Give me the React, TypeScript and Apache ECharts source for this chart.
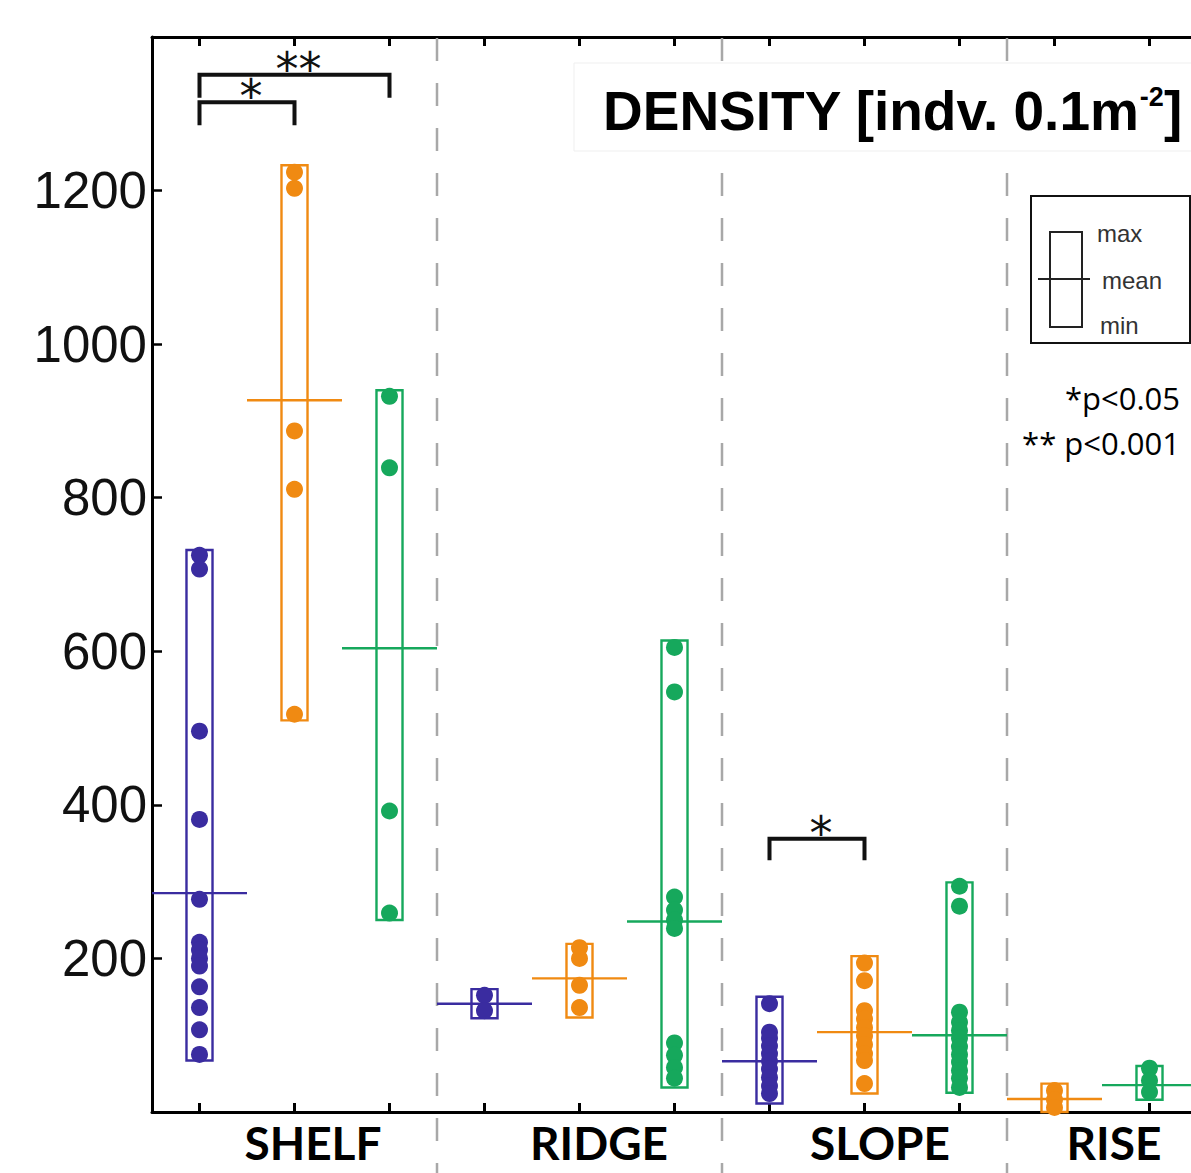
import React, { useEffect, useRef } from "react";
import * as echarts from "echarts";

// ---------- data ----------
const slots = ["s0", "s1", "s2", "s3", "s4", "s5", "s6", "s7", "s8", "s9", "s10", "s11"];
const groupLabels = ["SHELF", "RIDGE", "SLOPE", "RISE"];
const yTickValues = [200, 400, 600, 800, 1000, 1200];

// purple (first bar of each group)
const purpleSlot = [0, 3, 6];
const purpleMin = [67, 122, 11];
const purpleMax = [732, 160, 150];
const purpleMean = [285, 141, 66];
const purplePoints = [
  [725, 707, 496, 381, 277, 221, 211, 200, 190, 163, 136, 107, 75],
  [152, 132],
  [141, 104, 96, 86, 76, 66, 56, 45, 34, 24],
];

// orange
const orangeSlot = [1, 4, 7, 9];
const orangeMin = [510, 123, 24, 0];
const orangeMax = [1233, 219, 203, 37];
const orangeMean = [927, 174, 104, 17];
const orangePoints = [
  [1224, 1203, 887, 811, 518],
  [214, 200, 165, 136],
  [194, 171, 132, 121, 110, 99, 88, 76, 67, 37],
  [28, 16, 6],
];

// green
const greenSlot = [2, 5, 8, 10];
const greenMin = [250, 32, 25, 16];
const greenMax = [940, 614, 299, 60];
const greenMean = [604, 248, 100, 35];
const greenPoints = [
  [932, 839, 392, 259],
  [605, 547, 280, 263, 250, 239, 90, 74, 58, 44],
  [294, 268, 130, 117, 106, 96, 85, 75, 65, 54, 44, 32],
  [57, 41, 26],
];

// significance brackets
const bracketFrom = [0, 0, 6];
const bracketTo = [2, 1, 7];
const bracketTop = [1351, 1315, 356];
const bracketLeg = [1321, 1285, 328];
const bracketLabel = ["**", "*", "*"];

// group separators after these slots
const separatorAfter = [2, 5, 8];

const PURPLE = "#3a2ca0";
const ORANGE = "#f08a12";
const GREEN = "#16a85c";
const FONT = "'Liberation Sans', Arial, sans-serif";

function boxSeries(name: string, color: string, slot: number[], min: number[], max: number[], mean: number[]) {
  return {
    name,
    type: "custom",
    xAxisIndex: 0,
    yAxisIndex: 0,
    data: slot.map((s, i) => [s, min[i], max[i], mean[i]]),
    renderItem: (params: any, api: any) => {
      const s = api.value(0);
      const top = api.coord([s, api.value(2)]);
      const bot = api.coord([s, api.value(1)]);
      const m = api.coord([s, api.value(3)]);
      const bw = api.size([1, 0])[0];
      const half = bw * 0.137;
      return {
        type: "group",
        children: [
          {
            type: "rect",
            shape: { x: top[0] - half, y: top[1], width: half * 2, height: bot[1] - top[1] },
            style: { fill: "none", stroke: color, lineWidth: 2.4 },
          },
          {
            type: "line",
            shape: { x1: m[0] - bw / 2, y1: m[1], x2: m[0] + bw / 2, y2: m[1] },
            style: { stroke: color, lineWidth: 2.4 },
          },
        ],
      };
    },
    z: 2,
  };
}

function pointSeries(name: string, color: string, slot: number[], pts: number[][]) {
  const data: number[][] = [];
  slot.forEach((s, i) => pts[i].forEach((v) => data.push([s, v])));
  return {
    name,
    type: "scatter",
    xAxisIndex: 0,
    yAxisIndex: 0,
    data,
    symbol: "circle",
    symbolSize: 17,
    itemStyle: { color, opacity: 1 },
    z: 3,
  };
}

export default function App() {
  const ref = useRef<HTMLDivElement>(null);

  useEffect(() => {
    if (!ref.current) return;
    const chart = echarts.init(ref.current, null, { renderer: "svg" });
    const axisCommon = {
      type: "category",
      data: slots,
      boundaryGap: true,
      axisLine: { show: true, lineStyle: { color: "#000", width: 3 } },
      axisTick: { show: true, inside: true, alignWithLabel: true, length: 9, lineStyle: { color: "#000", width: 3 } },
      axisLabel: { show: false },
      splitLine: { show: false },
    };
    const option: any = {
      animation: false,
      backgroundColor: "#ffffff",
      grid: { left: 152, top: 37, width: 1140, height: 1075, containLabel: false },
      xAxis: [
        { ...axisCommon, position: "bottom" },
        { ...axisCommon, position: "top" },
      ],
      yAxis: {
        type: "value",
        min: 0,
        max: 1400,
        interval: 200,
        axisLine: { show: true, lineStyle: { color: "#000", width: 3 } },
        axisTick: { show: true, inside: true, length: 10, lineStyle: { color: "#000", width: 2.5 } },
        splitLine: { show: false },
        axisLabel: {
          margin: 5,
          fontSize: 51,
          fontFamily: FONT,
          color: "#111",
          formatter: (v: number) => (yTickValues.indexOf(v) >= 0 ? String(v) : ""),
        },
      },
      series: [
        boxSeries("purpleBox", PURPLE, purpleSlot, purpleMin, purpleMax, purpleMean),
        boxSeries("orangeBox", ORANGE, orangeSlot, orangeMin, orangeMax, orangeMean),
        boxSeries("greenBox", GREEN, greenSlot, greenMin, greenMax, greenMean),
        pointSeries("purple", PURPLE, purpleSlot, purplePoints),
        pointSeries("orange", ORANGE, orangeSlot, orangePoints),
        pointSeries("green", GREEN, greenSlot, greenPoints),
        {
          name: "brackets",
          type: "custom",
          xAxisIndex: 0,
          yAxisIndex: 0,
          data: bracketFrom.map((f, i) => [f, bracketTo[i], bracketTop[i], bracketLeg[i]]),
          renderItem: (params: any, api: any) => {
            const a = api.coord([api.value(0), api.value(2)]);
            const b = api.coord([api.value(1), api.value(2)]);
            const leg = api.coord([api.value(0), api.value(3)]);
            return {
              type: "group",
              children: [
                {
                  type: "polyline",
                  shape: { points: [[a[0], leg[1]], [a[0], a[1]], [b[0], b[1]], [b[0], leg[1]]] },
                  style: { fill: "none", stroke: "#111", lineWidth: 4 },
                },
                {
                  type: "text",
                  style: {
                    text: bracketLabel[params.dataIndex],
                    x: (a[0] + b[0]) / 2 + 4,
                    y: a[1] - 6,
                    textAlign: "center",
                    textVerticalAlign: "middle",
                    fontSize: 46,
                    fontFamily: "'DejaVu Sans', sans-serif",
                    fill: "#111",
                  },
                },
              ],
            };
          },
          z: 4,
        },
      ],
    };
    chart.setOption(option);

    const sepX = separatorAfter.map((s) => {
      const p1 = chart.convertToPixel({ xAxisIndex: 0 }, s) as number;
      const p2 = chart.convertToPixel({ xAxisIndex: 0 }, s + 1) as number;
      return (p1 + p2) / 2;
    });

    const graphic: any[] = [];
    sepX.forEach((x, i) => {
      graphic.push({
        type: "line",
        id: "sep" + i,
        shape: { x1: x, y1: 38, x2: x, y2: 1173 },
        style: { stroke: "#a8a8a8", lineWidth: 2.5, lineDash: [23, 22] },
        z: 1,
      });
    });
    // title
    graphic.push({
      type: "rect",
      id: "titleBg",
      shape: { x: 574, y: 63, width: 640, height: 88 },
      style: { fill: "#ffffff", stroke: "#efefef", lineWidth: 1 },
      z: 5,
    });
    graphic.push({
      type: "text",
      id: "title",
      x: 603,
      y: 111,
      style: {
        text: "{a|DENSITY [indv. 0.1m}{s|-2}{a|]}",
        textVerticalAlign: "middle",
        rich: {
          a: { fontSize: 55, fontWeight: "bold", fontFamily: FONT, fill: "#000" },
          s: { fontSize: 27, fontWeight: "bold", fontFamily: FONT, fill: "#000", verticalAlign: "top" },
        },
      },
      z: 6,
    });
    // legend box
    graphic.push({
      type: "rect",
      id: "legBox",
      shape: { x: 1031, y: 196, width: 159, height: 147 },
      style: { fill: "#ffffff", stroke: "#111", lineWidth: 2 },
      z: 5,
    });
    graphic.push({
      type: "rect",
      id: "legInner",
      shape: { x: 1050, y: 232, width: 32, height: 95 },
      style: { fill: "none", stroke: "#222", lineWidth: 2 },
      z: 6,
    });
    graphic.push({
      type: "line",
      id: "legMean",
      shape: { x1: 1038, y1: 279, x2: 1090, y2: 279 },
      style: { stroke: "#222", lineWidth: 2 },
      z: 6,
    });
    [
      ["max", 1097, 233],
      ["mean", 1102, 280],
      ["min", 1100, 325],
    ].forEach(([t, x, y], i) => {
      graphic.push({
        type: "text",
        id: "legT" + i,
        x,
        y,
        style: { text: t, fontSize: 24, fontFamily: FONT, fill: "#333", textVerticalAlign: "middle" },
        z: 6,
      });
    });
    // p-values
    [
      ["*p<0.05", 398],
      ["** p<0.001", 443],
    ].forEach(([t, y], i) => {
      graphic.push({
        type: "text",
        id: "pv" + i,
        x: 1180,
        y,
        style: {
          text: t,
          fontSize: 31,
          fontFamily: "'Open Sans', sans-serif",
          fill: "#000",
          textAlign: "right",
          textVerticalAlign: "middle",
        },
        z: 6,
      });
    });
    // group labels
    const labelX = [313, 599, 880, 1114];
    groupLabels.forEach((g, i) => {
      graphic.push({
        type: "text",
        id: "grp" + i,
        x: labelX[i],
        y: 1165,
        style: {
          text: g,
          fontSize: 46,
          fontWeight: "bold",
          fontFamily: "Lato, 'Open Sans', sans-serif",
          fill: "#000",
          textAlign: "center",
          textVerticalAlign: "bottom",
        },
        z: 6,
      });
    });
    chart.setOption({ graphic });

    return () => chart.dispose();
  }, []);

  return (
    <div style={{ position: "fixed", left: 0, top: 0, width: 1191, height: 1173, overflow: "hidden", background: "#fff" }}>
      <div ref={ref} style={{ width: 1320, height: 1173 }} />
    </div>
  );
}
